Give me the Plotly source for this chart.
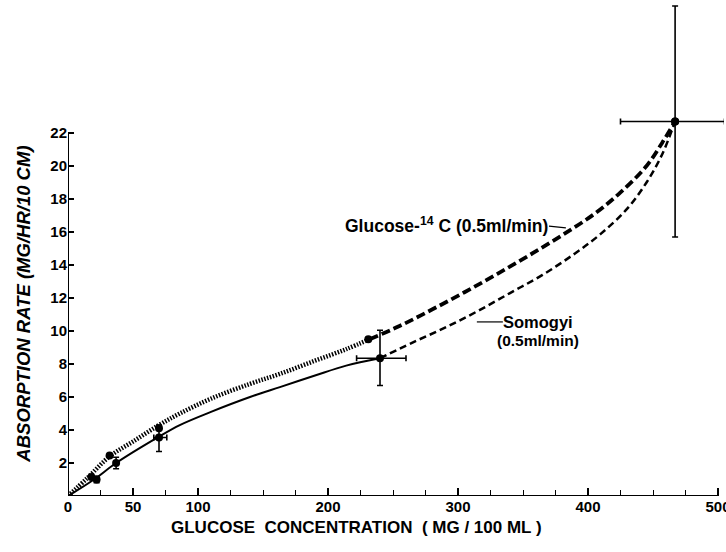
import plotly.graph_objects as go

# ---- data ----
# Glucose-14C curve (hatched part and heavy dashed part)
gl_solid_x = [0, 15, 32, 50, 70, 86, 110, 140, 163, 190, 214, 232]
gl_solid_y = [0, 1.1, 2.4, 3.3, 4.3, 5.0, 5.9, 6.8, 7.4, 8.2, 8.9, 9.5]
gl_dash_x = [232, 255, 280, 305, 330, 355, 380, 405, 425, 445, 457, 467]
gl_dash_y = [9.5, 10.3, 11.3, 12.35, 13.45, 14.6, 15.8, 17.1, 18.4, 20.0, 21.4, 22.7]
gl_pts_x = [18, 32, 70, 231, 467]
gl_pts_y = [1.15, 2.45, 4.1, 9.5, 22.7]

# Somogyi curve
so_solid_x = [0, 20, 37, 70, 86, 110, 140, 163, 190, 214, 240]
so_solid_y = [0, 1.0, 2.0, 3.6, 4.3, 5.1, 6.0, 6.6, 7.3, 7.9, 8.35]
so_dash_x = [240, 265, 290, 315, 340, 365, 390, 410, 430, 445, 457, 467]
so_dash_y = [8.35, 9.3, 10.2, 11.2, 12.3, 13.4, 14.7, 15.9, 17.4, 19.0, 20.7, 22.7]
so_pts_x = [22, 37, 70, 240, 467]
so_pts_y = [1.0, 2.0, 3.55, 8.35, 22.7]
so_err_y_plus = [0.2, 0.35, 0.75, 1.7, 7.0]
so_err_y_minus = [0.2, 0.35, 0.85, 1.65, 7.0]
so_err_x_plus = [0, 0, 6, 20, 38]
so_err_x_minus = [0, 0, 4, 18, 42]

x_tickvals = [0, 50, 100, 200, 300, 400, 500]
x_ticktext = ["0", "50", "100", "200", "300", "400", "500"]
x_minor_ticks = [25, 75, 125, 150, 175, 225, 250, 275, 325, 350, 375, 425, 450, 475]
y_tickvals = [2, 4, 6, 8, 10, 12, 14, 16, 18, 20, 22]
y_ticktext = [str(v) for v in y_tickvals]

FONT = "Liberation Sans"

fig = go.Figure()

fig.add_trace(go.Scatter(x=gl_solid_x, y=gl_solid_y, mode="lines",
                         line=dict(color="black", width=4.5, dash="1.5px,1.5px", shape="spline"),
                         hoverinfo="skip"))
fig.add_trace(go.Scatter(x=gl_dash_x, y=gl_dash_y, mode="lines",
                         line=dict(color="black", width=3.8, dash="9px,4px", shape="spline"),
                         hoverinfo="skip"))
fig.add_trace(go.Scatter(x=so_solid_x, y=so_solid_y, mode="lines",
                         line=dict(color="black", width=2, shape="spline"),
                         hoverinfo="skip"))
fig.add_trace(go.Scatter(x=so_dash_x, y=so_dash_y, mode="lines",
                         line=dict(color="black", width=2.5, dash="7px,4px", shape="spline"),
                         hoverinfo="skip"))
fig.add_trace(go.Scatter(x=gl_pts_x, y=gl_pts_y, mode="markers",
                         marker=dict(color="black", size=8), cliponaxis=False))
fig.add_trace(go.Scatter(x=so_pts_x, y=so_pts_y, mode="markers",
                         marker=dict(color="black", size=8),
                         error_y=dict(type="data", array=so_err_y_plus, arrayminus=so_err_y_minus,
                                      color="black", thickness=1.6, width=3),
                         error_x=dict(type="data", array=so_err_x_plus, arrayminus=so_err_x_minus,
                                      color="black", thickness=1.6, width=3),
                         cliponaxis=False))

shapes = [
    dict(type="line", xref="x", yref="y", x0=0, y0=0, x1=500, y1=0,
         line=dict(color="black", width=2)),
    dict(type="line", xref="x", yref="y", x0=0, y0=0, x1=0, y1=22,
         line=dict(color="black", width=2)),
    dict(type="line", xref="x", yref="y", x0=370, y0=16.35, x1=383, y1=16.25,
         line=dict(color="black", width=1.2)),
    dict(type="line", xref="x", yref="y", x0=314.5, y0=10.55, x1=334.5, y1=10.55,
         line=dict(color="black", width=1.2)),
]

annotations = [
    dict(text="<b>Glucose-<sup>14</sup> C (0.5ml/min)</b>", x=370, y=16.4, xref="x", yref="y",
         xanchor="right", yanchor="middle", showarrow=False, borderpad=0,
         font=dict(family=FONT, size=17.5, color="black")),
    dict(text="<b>Somogyi</b>", x=334, y=10.55, xref="x", yref="y",
         xanchor="left", yanchor="middle", showarrow=False, borderpad=0,
         font=dict(family=FONT, size=16.5, color="black")),
    dict(text="<b>(0.5ml/min)</b>", x=329.5, y=9.4, xref="x", yref="y",
         xanchor="left", yanchor="middle", showarrow=False, borderpad=0,
         font=dict(family=FONT, size=15.5, color="black")),
    dict(text="<b>GLUCOSE  CONCENTRATION  ( MG / 100 ML )</b>", x=222, y=-0.065,
         xref="x", yref="paper", xanchor="center", yanchor="middle", showarrow=False,
         font=dict(family=FONT, size=17, color="black")),
    dict(text="<b><i>ABSORPTION RATE (MG/HR/10 CM)</i></b>", x=-0.067, y=0.389,
         xref="paper", yref="paper", xanchor="center", yanchor="middle", showarrow=False,
         textangle=-90, font=dict(family=FONT, size=18.5, color="black")),
]

fig.update_layout(
    width=726, height=552,
    margin=dict(l=68, r=2, t=4, b=56, autoexpand=False),
    paper_bgcolor="white", plot_bgcolor="white",
    showlegend=False,
    shapes=shapes, annotations=annotations,
    xaxis=dict(range=[0, 656 / 1.3], automargin=False, showline=False, showgrid=False,
               zeroline=False, tickmode="array", tickvals=x_tickvals, ticktext=x_ticktext,
               ticks="inside", ticklen=8, tickwidth=1.5, tickcolor="black",
               ticklabeloverflow="allow",
               minor=dict(tickmode="array", tickvals=x_minor_ticks, ticks="inside",
                          ticklen=6, tickwidth=1.3, tickcolor="black", showgrid=False),
               tickfont=dict(family=FONT, size=15, color="black", weight="bold")),
    yaxis=dict(range=[0, 492 / 16.5], automargin=False, showline=False, showgrid=False,
               zeroline=False, tickmode="array", tickvals=y_tickvals, ticktext=y_ticktext,
               ticks="inside", ticklen=6, tickwidth=1.5, tickcolor="black",
               tickfont=dict(family=FONT, size=15, color="black", weight="bold")),
)

fig.write_html("out.html", config={"displayModeBar": False},
               post_script="document.body.style.margin='0';document.body.style.overflow='hidden';")
